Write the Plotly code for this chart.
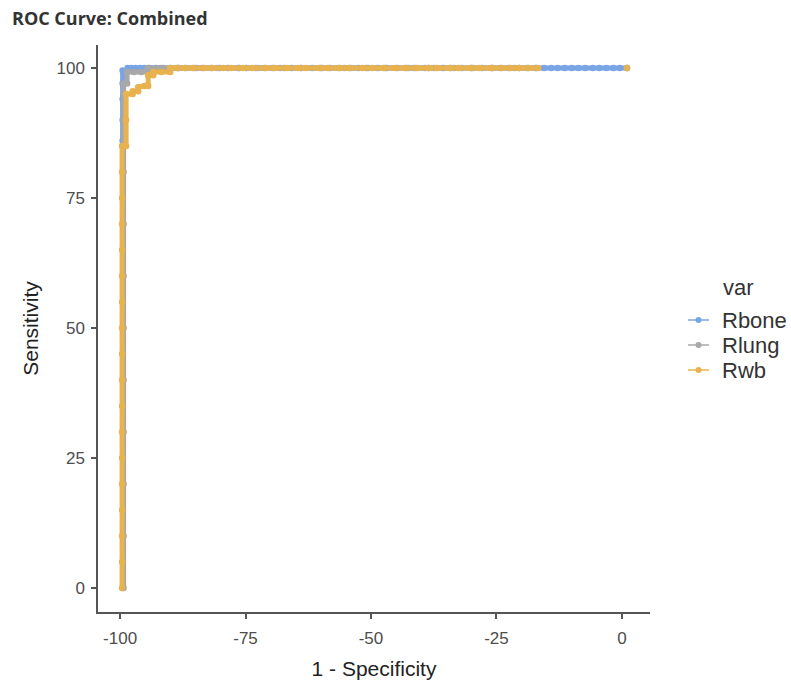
import plotly.graph_objects as go

# ROC curve points (x = 1 - Specificity as plotted, y = Sensitivity)
rbone_x = [-99.5, -99.5, -99.5, -99.5, -99.5, -99.5, -99.5, -99.5, -99.5, -99.5, -99.5, -99.5, -99.5, -99.5,
           -98.5, -98.5, -97.8, -96.9, -96.0, -95.2, -94.1, -92.8, -91.5, -90.0, -88.3, -86.9, -85.2, -83.6,
           -81.8, -80.1, -78.5, -76.4, -74.9, -73.0, -71.2, -69.5, -67.3, -65.8, -63.9, -61.7, -60.0, -58.2,
           -56.4, -54.1, -52.5, -50.6, -48.7, -46.9, -44.8, -43.0, -41.3, -39.2, -37.4, -35.6, -33.5, -31.9,
           -29.8, -27.9, -26.0, -24.2, -22.5, -20.4, -18.8, -17.0, -15.5, -14.1, -12.8, -11.4, -10.0, -8.7,
           -7.3, -5.8, -4.5, -3.1, -1.7, -0.4, 1.0]
rbone_y = [0, 10, 20, 30, 40, 50, 60, 70, 80, 86, 90, 94, 97, 99.5,
           99.5, 100, 100, 100, 100, 100, 100, 100, 100, 100, 100, 100, 100, 100,
           100, 100, 100, 100, 100, 100, 100, 100, 100, 100, 100, 100, 100, 100,
           100, 100, 100, 100, 100, 100, 100, 100, 100, 100, 100, 100, 100, 100,
           100, 100, 100, 100, 100, 100, 100, 100, 100, 100, 100, 100, 100, 100,
           100, 100, 100, 100, 100, 100, 100]

rlung_x = [-99.3, -99.3, -99.3, -99.3, -99.3, -99.3, -99.3, -99.3, -99.3, -99.3, -99.3,
           -98.6, -98.6, -97.2, -95.8, -94.5, -94.5, -92.0, -88.5, -84.7, -80.6, -76.2, -72.5,
           -68.1, -64.0, -59.8, -55.3, -51.0, -47.2, -42.6, -38.5, -34.1, -30.0, -25.7, -21.4,
           -17.2, None, 1.0]
rlung_y = [0, 10, 20, 30, 40, 50, 60, 70, 80, 90, 97,
           97, 99.2, 99.2, 99.2, 99.2, 100, 100, 100, 100, 100, 100, 100,
           100, 100, 100, 100, 100, 100, 100, 100, 100, 100, 100, 100,
           100, None, 100]

rwb_x = [-99.6, -99.6, -99.6, -99.6, -99.6, -99.6, -99.6, -99.6, -99.6, -99.6, -99.6, -99.6, -99.6,
         -99.6, -99.6, -99.6, -99.6, -99.6, -98.8, -98.8, -98.8, -97.5, -97.5, -96.4, -96.4, -95.2,
         -94.4, -94.4, -93.4, -93.4, -91.8, -90.0, -90.0, -88.6, -87.1, -85.5, -83.2, -81.7, -79.4,
         -77.8, -75.5, -73.6, -71.0, -69.2, -66.8, -64.5, -62.9, -60.3, -58.6, -56.2, -54.4, -51.7,
         -49.8, -47.5, -45.1, -43.3, -40.8, -38.6, -36.9, -34.2, -32.5, -30.1, -28.4, -26.0, -23.9,
         -22.2, -20.5, -18.6, -16.7, None, 1.0]
rwb_y = [0, 5, 10, 15, 20, 25, 30, 35, 40, 45, 50, 55, 60,
         65, 70, 75, 80, 85, 85, 90, 95, 95, 95.5, 95.5, 96.3, 96.5,
         96.5, 98.6, 98.6, 99.2, 99.2, 99.2, 100, 100, 100, 100, 100, 100, 100,
         100, 100, 100, 100, 100, 100, 100, 100, 100, 100, 100, 100, 100,
         100, 100, 100, 100, 100, 100, 100, 100, 100, 100, 100, 100, 100,
         100, 100, 100, 100, None, 100]

series_names = ["Rbone", "Rlung", "Rwb"]
series_colors = ["#79A5E6", "#A8A8A8", "#E8B24F"]
series_x = [rbone_x, rlung_x, rwb_x]
series_y = [rbone_y, rlung_y, rwb_y]

W, H = 791, 684
ML, MT = 98, 45
PW, PH = 552, 567
MR, MB = W - ML - PW, H - MT - PH


# pixel -> paper coords (for the hand-made ggplot-style legend)
def px(x):
    return (x - ML) / PW


def py(y):
    return (MT + PH - y) / PH


TXT = "Liberation Sans, Arial"

fig = go.Figure()
for name, xs, ys, color in zip(series_names, series_x, series_y, series_colors):
    fig.add_trace(
        go.Scatter(
            x=xs,
            y=ys,
            mode="lines+markers",
            name=name,
            line=dict(color=color, width=5),
            marker=dict(color=color, size=6.5),
            connectgaps=False,
            showlegend=False,
        )
    )

# legend: "var" title + key line/dot + label
shapes = []
annotations = [
    dict(x=px(721), y=py(287), xref="paper", yref="paper", text="var", showarrow=False,
         xanchor="left", yanchor="middle", font=dict(family=TXT, size=22, color="#333333"))
]
for i, (name, color) in enumerate(zip(series_names, series_colors)):
    yc = 320 + 25 * i
    shapes.append(dict(type="line", xref="paper", yref="paper", x0=px(688), x1=px(709),
                       y0=py(yc), y1=py(yc), line=dict(color=color, width=1.5)))
    shapes.append(dict(type="circle", xref="paper", yref="paper", x0=px(695.5), x1=px(701.5),
                       y0=py(yc + 3), y1=py(yc - 3), fillcolor=color, line=dict(width=0)))
    annotations.append(dict(x=px(720), y=py(yc), xref="paper", yref="paper", text=name,
                            showarrow=False, xanchor="left", yanchor="middle",
                            font=dict(family=TXT, size=22, color="#333333")))

axis_style = dict(
    showgrid=False,
    zeroline=False,
    showline=True,
    automargin=False,
    linecolor="#555555",
    linewidth=1.5,
    ticks="outside",
    ticklen=5,
    tickwidth=1.5,
    tickcolor="#555555",
    tickfont=dict(family=TXT, size=17, color="#4d4d4d"),
    title_font=dict(family=TXT, size=21, color="#222222"),
)

fig.update_xaxes(
    range=[-104.4, 5.6],
    tickvals=[-100, -75, -50, -25, 0],
    ticktext=["-100", "-75", "-50", "-25", "0"],
    title_text="1 - Specificity",
    title_standoff=14,
    ticklabelstandoff=5,
    **axis_style,
)
fig.update_yaxes(
    range=[-4.6, 104.4],
    tickvals=[0, 25, 50, 75, 100],
    title_text="Sensitivity",
    title_standoff=12,
    ticklabelstandoff=3,
    **axis_style,
)

fig.update_layout(
    width=W,
    height=H,
    plot_bgcolor="white",
    paper_bgcolor="white",
    margin=dict(l=ML, r=MR, t=MT, b=MB),
    title=dict(
        text="<b>ROC Curve: Combined</b>",
        x=12 / W,
        xanchor="left",
        y=1 - 19 / H,
        yanchor="middle",
        font=dict(family="Open Sans, Noto Sans", size=18, color="#333333"),
    ),
    shapes=shapes,
    annotations=annotations,
    showlegend=False,
)

# drop the default 8px body margin so the figure fills the window exactly
fig.write_html(
    "out.html",
    config={"displayModeBar": False},
    post_script="document.body.style.margin='0';",
)
